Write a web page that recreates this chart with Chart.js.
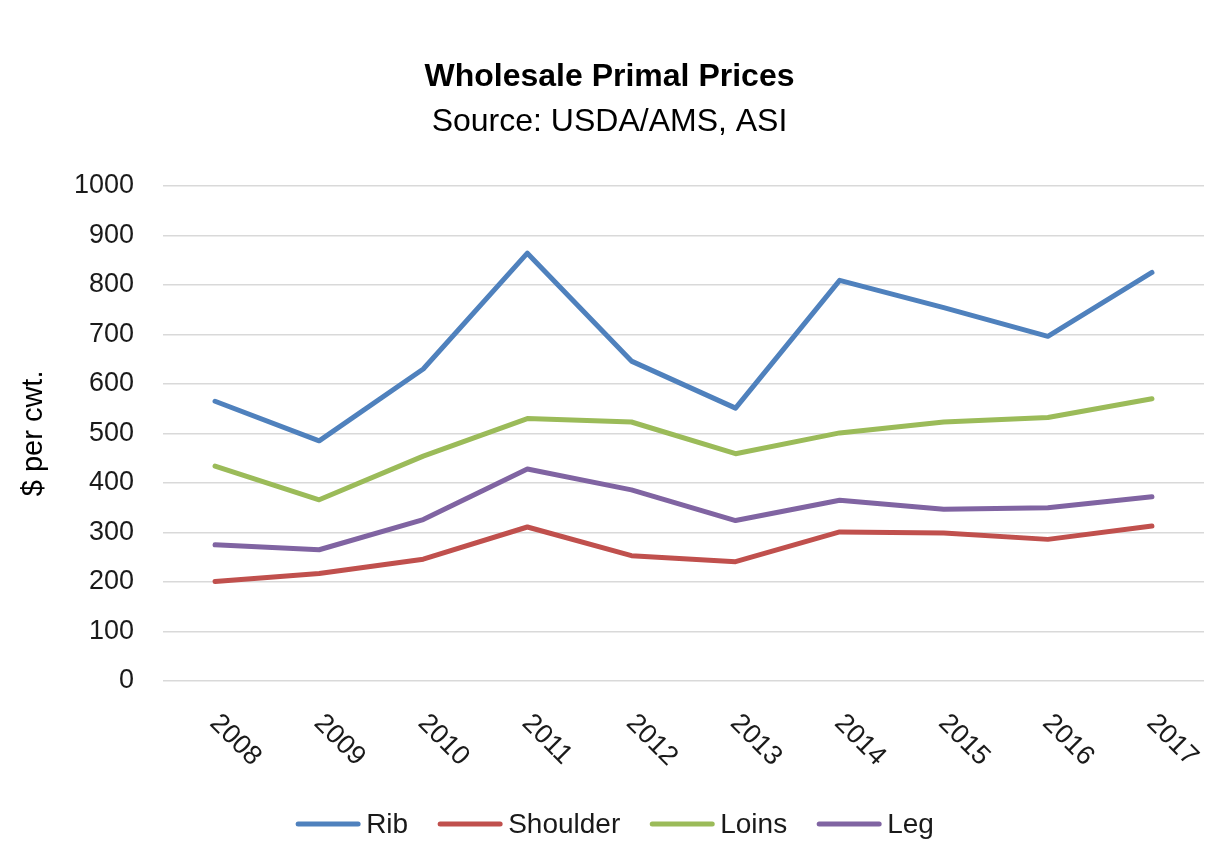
<!DOCTYPE html>
<html>
<head>
<meta charset="utf-8">
<script src="https://cdn.jsdelivr.net/npm/chart.js@4/dist/chart.umd.min.js"></script>
<style>
  html, body { margin: 0; padding: 0; background: #ffffff; }
  #wrap { width: 1223px; height: 865px; }
</style>
</head>
<body>
<div id="wrap"><canvas id="c" width="1223" height="865"></canvas></div>
<script>
const years = ['2008','2009','2010','2011','2012','2013','2014','2015','2016','2017'];
const rib      = [565, 485, 630, 864, 646, 551, 809, 754, 696, 825];
const shoulder = [201, 217, 246, 311, 253, 241, 301, 299, 286, 313];
const loins    = [434, 366, 454, 530, 523, 459, 501, 523, 532, 570];
const leg      = [275, 265, 326, 428, 386, 324, 365, 347, 350, 372];
const seriesNames = ['Rib', 'Shoulder', 'Loins', 'Leg'];
const seriesColors = ['#4F81BD', '#C0504D', '#9BBB59', '#8064A2'];
const yTicks = [0, 100, 200, 300, 400, 500, 600, 700, 800, 900, 1000];

const FONT = "'Liberation Sans', Arial, sans-serif";
Chart.defaults.font.family = FONT;

function ds(label, data, color) {
  return {
    label, data,
    borderColor: color, backgroundColor: color,
    borderWidth: 5, pointRadius: 0, pointHoverRadius: 0,
    tension: 0, fill: false,
    borderCapStyle: 'round', borderJoinStyle: 'round'
  };
}

const customDraw = {
  id: 'customDraw',
  afterDraw(chart) {
    const ctx = chart.ctx;
    const xs = chart.scales.x;
    const bottom = chart.chartArea.bottom;
    ctx.save();
    // rotated x labels (clockwise 45deg)
    ctx.font = "27px " + FONT;
    ctx.fillStyle = '#1a1a1a';
    ctx.textAlign = 'left';
    ctx.textBaseline = 'middle';
    chart.data.labels.forEach((lab, i) => {
      const x = xs.getPixelForValue(i);
      ctx.save();
      ctx.translate(x - 1, bottom + 38);
      ctx.rotate(Math.PI / 4);
      ctx.fillText(lab, 0, 0);
      ctx.restore();
    });
    // legend
    ctx.font = "28px " + FONT;
    const lineLen = 64, gapText = 6, gapItem = 30, ly = 824;
    const items = chart.data.datasets.map(d => ({ label: d.label, color: d.borderColor, w: ctx.measureText(d.label).width }));
    let total = 0;
    items.forEach((it, i) => { total += lineLen + gapText + it.w + (i < items.length - 1 ? gapItem : 0); });
    let x = 615 - total / 2;
    items.forEach(it => {
      ctx.strokeStyle = it.color;
      ctx.lineWidth = 5;
      ctx.lineCap = 'round';
      ctx.beginPath();
      ctx.moveTo(x + 2, ly);
      ctx.lineTo(x + lineLen - 2, ly);
      ctx.stroke();
      ctx.fillStyle = '#1a1a1a';
      ctx.fillText(it.label, x + lineLen + gapText, ly + 1);
      x += lineLen + gapText + it.w + gapItem;
    });
    ctx.restore();
  }
};

new Chart(document.getElementById('c'), {
  type: 'line',
  data: {
    labels: years,
    datasets: [
      ds(seriesNames[0], rib, seriesColors[0]),
      ds(seriesNames[1], shoulder, seriesColors[1]),
      ds(seriesNames[2], loins, seriesColors[2]),
      ds(seriesNames[3], leg, seriesColors[3])
    ]
  },
  options: {
    responsive: false,
    animation: false,
    events: [],
    layout: { padding: { top: 0, left: 15, right: 19, bottom: 184 } },
    plugins: {
      legend: { display: false },
      tooltip: { enabled: false },
      title: {
        display: true, text: 'Wholesale Primal Prices', color: '#000',
        font: { size: 32, weight: 'bold' }, padding: { top: 58, bottom: 0 }
      },
      subtitle: {
        display: true, text: 'Source: USDA/AMS, ASI', color: '#000',
        font: { size: 32 }, padding: { top: 7, bottom: 44 }
      }
    },
    scales: {
      x: {
        type: 'category', offset: true,
        grid: { display: false },
        border: { display: false },
        ticks: { display: false },
        afterFit(s) { s.height = 0; }
      },
      y: {
        min: 0, max: 1000,
        afterBuildTicks(s) { s.ticks = yTicks.map(v => ({ value: v })); },
        afterFit(s) { s.width = 148; },
        grid: { color: '#d9d9d9', lineWidth: 1.5, drawTicks: false },
        border: { display: false },
        ticks: { color: '#1a1a1a', font: { size: 27 }, padding: 29, callback: v => String(v) },
        title: {
          display: true, text: '$ per cwt.', color: '#000',
          font: { size: 29 }, padding: { top: 2, bottom: 0 }
        }
      }
    }
  },
  plugins: [customDraw]
});
</script>
</body>
</html>
